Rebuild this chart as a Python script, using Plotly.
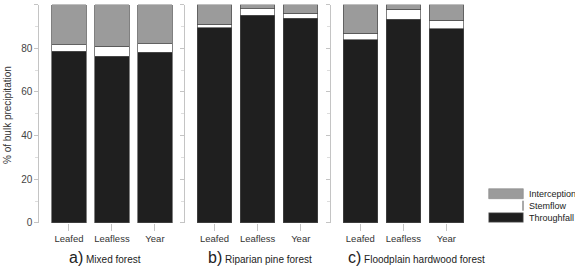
import plotly.graph_objects as go

# ---- data ----
periods = ["Leafed", "Leafless", "Year"]
panel_titles = ["a)", "b)", "c)"]
panel_names = ["Mixed forest", "Riparian pine forest", "Floodplain hardwood forest"]
throughfall = [[78.7, 76.4, 78.3], [89.4, 95.2, 93.8], [83.8, 93.4, 88.9]]
stemflow = [[2.9, 4.6, 3.8], [1.5, 2.8, 2.2], [3.0, 4.5, 4.0]]
interception = [[18.4, 19.0, 17.9], [9.1, 2.0, 4.0], [13.2, 2.1, 7.1]]
series_names = ["Throughfall", "Stemflow", "Interception"]
y_ticks = [0, 20, 40, 60, 80, 100]

W, H = 575, 268
col_tf = "#1f1f1f"
col_sf = "#ffffff"
col_ic = "#9b9b9b"
edge = "#4a4a4a"
axis_col = "#c4c4c4"
font_fam = "Liberation Sans, Arial, sans-serif"
txt_col = "#333333"

def px(x):
    return x / W

def py(y):
    return (H - y) / H

fig = go.Figure()

domains = [(39.3, 184.6), (184.7, 330.5), (330.7, 476.0)]
for i in range(3):
    xa = "x" if i == 0 else f"x{i+1}"
    ya = "y" if i == 0 else f"y{i+1}"
    for name, vals, col in zip(series_names,
                               [throughfall[i], stemflow[i], interception[i]],
                               [col_tf, col_sf, col_ic]):
        fig.add_trace(go.Bar(
            x=periods, y=vals, name=name, xaxis=xa, yaxis=ya,
            marker=dict(color=col, line=dict(color=edge, width=0.7)),
            showlegend=False,
        ))

layout = dict(
    width=W, height=H, barmode="stack", bargap=0.2,
    margin=dict(l=0, r=0, t=0, b=0, autoexpand=False),
    paper_bgcolor="white", plot_bgcolor="white",
    font=dict(family=font_fam, size=10, color=txt_col),
    showlegend=False,
)
for i, (a, b) in enumerate(domains):
    xk = "xaxis" if i == 0 else f"xaxis{i+1}"
    yk = "yaxis" if i == 0 else f"yaxis{i+1}"
    xa = "x" if i == 0 else f"x{i+1}"
    ya = "y" if i == 0 else f"y{i+1}"
    layout[xk] = dict(
        domain=[px(a), px(b)], anchor=ya, type="category",
        range=[-0.69, 2.69], showgrid=False, zeroline=False, showline=False,
        ticks="outside", ticklen=7, tickcolor=axis_col, tickwidth=1,
        tickfont=dict(size=9.5, color=txt_col, family=font_fam),
        automargin=False,
    )
    layout[yk] = dict(
        domain=[py(223), py(4.5)], anchor=xa, range=[-0.01, 100.05],
        tickvals=y_ticks, showgrid=False, zeroline=False,
        showline=True, linecolor=axis_col, linewidth=1,
        ticks="outside", ticklen=4, tickcolor=axis_col, tickwidth=1,
        minor=dict(tickvals=[10, 30, 50, 70, 90], ticks="outside", ticklen=3,
                   tickcolor="#dddddd", tickwidth=1),
        showticklabels=(i == 0),
        tickfont=dict(size=10, color="#444444", family=font_fam),
        automargin=False,
    )
    if i > 0:
        layout[yk]["matches"] = "y"
fig.update_layout(**layout)

# panel titles
title_x = [66.7, 205.7, 345.7]
for t, n, x0 in zip(panel_titles, panel_names, title_x):
    fig.add_annotation(
        x=px(x0), y=py(257), xref="paper", yref="paper",
        xanchor="left", yanchor="middle", showarrow=False,
        text=f"<span style='font-size:16px'>{t}</span> {n}",
        font=dict(size=10, color="#222222", family=font_fam),
    )

# y axis title
fig.add_annotation(
    x=px(7.5), y=py(115.5), xref="paper", yref="paper",
    xanchor="center", yanchor="middle", showarrow=False, textangle=-90,
    text="% of bulk precipitation",
    font=dict(size=10, color="#333333", family=font_fam),
)

# legend (drawn manually to match wide swatches)
leg_items = [("Interception", col_ic, 188.7, 198.7),
             ("Stemflow", col_sf, 200.7, 210.7),
             ("Throughfall", col_tf, 212.7, 222.3)]
for name, col, y0, y1 in leg_items:
    if name == "Stemflow":
        fig.add_shape(type="line", xref="paper", yref="paper",
                      x0=px(523), x1=px(523), y0=py(y0), y1=py(y1),
                      line=dict(color="#555555", width=1))
    else:
        fig.add_shape(type="rect", xref="paper", yref="paper",
                      x0=px(488.7), x1=px(523.3), y0=py(y0), y1=py(y1),
                      fillcolor=col, line=dict(color="#888888", width=0.6))
    fig.add_annotation(
        x=px(527.3), y=py((y0 + y1) / 2), xref="paper", yref="paper",
        xanchor="left", yanchor="middle", showarrow=False, text=name,
        font=dict(size=9, color="#222222", family=font_fam),
    )

fig.write_html(
    "out.html",
    config={"displayModeBar": False},
    post_script="document.body.style.margin='0';document.body.style.padding='0';",
)
